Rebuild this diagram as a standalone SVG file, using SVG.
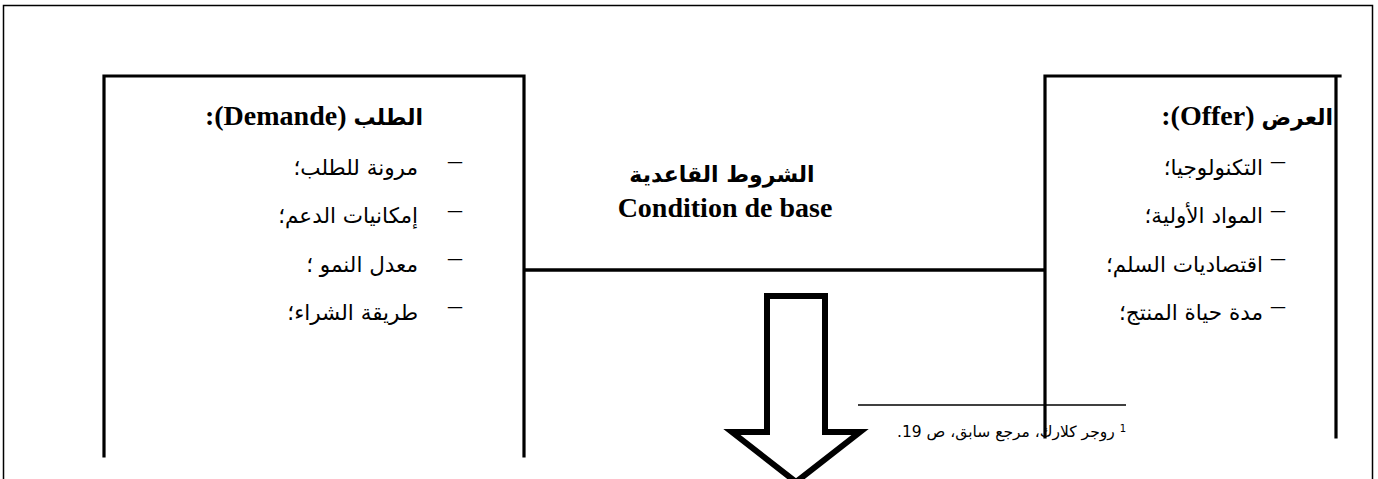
<svg xmlns="http://www.w3.org/2000/svg" width="1378" height="479" viewBox="0 0 1378 479">
  <style>
    .frame { fill: none; stroke: #000; stroke-width: 1.5; }
    .box { fill: none; stroke: #000; stroke-width: 3.2; stroke-linecap: square; }
    .link { fill: none; stroke: #000; stroke-width: 3.5; }
    .arrow { fill: #fff; stroke: #000; stroke-width: 6; stroke-linejoin: miter; }
    .rule { stroke: #000; stroke-width: 1.5; }
    .head { font-family: "Liberation Serif", "DejaVu Sans", serif; font-weight: bold; font-size: 28px; fill: #000; }
    .ar { font-family: "DejaVu Sans", sans-serif; font-size: 22px; }
    .item { font-family: "DejaVu Sans", "Liberation Serif", sans-serif; font-size: 21.5px; fill: #000; }
    .dash { font-family: "Liberation Serif", serif; font-size: 28px; fill: #000; }
    .note { font-family: "DejaVu Sans", "Liberation Sans", sans-serif; font-size: 15.5px; fill: #000; }
  </style>

  <!-- page frame -->
  <rect class="frame" x="3.5" y="5.5" width="1369" height="500"/>

  <!-- demand box -->
  <g id="demand">
    <path class="box" d="M104,456 V76 H524 V456"/>
    <text class="head" x="423" y="125" direction="rtl" text-anchor="start"><tspan class="ar">الطلب</tspan>  (Demande):</text>
    <text class="dash" x="448" y="169">–</text>
    <text class="item" x="418" y="175" direction="rtl" text-anchor="start">مرونة للطلب؛</text>
    <text class="dash" x="448" y="218">–</text>
    <text class="item" x="418" y="223" direction="rtl" text-anchor="start">إمكانيات الدعم؛</text>
    <text class="dash" x="448" y="266">–</text>
    <text class="item" x="418" y="272" direction="rtl" text-anchor="start">معدل النمو ؛</text>
    <text class="dash" x="448" y="314">–</text>
    <text class="item" x="418" y="320" direction="rtl" text-anchor="start">طريقة الشراء؛</text>
  </g>

  <!-- supply box -->
  <g id="offer">
    <path class="box" d="M1045,437 V76 H1340 M1336,76 V437"/>
    <text class="head" x="1333" y="125" direction="rtl" text-anchor="start"><tspan class="ar">العرض</tspan> (Offer):</text>
    <text class="dash" x="1271" y="169">–</text>
    <text class="item" x="1263" y="175" direction="rtl" text-anchor="start">التكنولوجيا؛</text>
    <text class="dash" x="1271" y="218">–</text>
    <text class="item" x="1263" y="223" direction="rtl" text-anchor="start">المواد الأولية؛</text>
    <text class="dash" x="1271" y="266">–</text>
    <text class="item" x="1263" y="272" direction="rtl" text-anchor="start">اقتصاديات السلم؛</text>
    <text class="dash" x="1271" y="314">–</text>
    <text class="item" x="1263" y="320" direction="rtl" text-anchor="start">مدة حياة المنتج؛</text>
  </g>

  <!-- basic conditions label -->
  <g id="conditions">
    <text class="head ar" x="722" y="182" text-anchor="middle" direction="rtl" font-weight="bold" font-size="20">الشروط القاعدية</text>
    <text class="head" x="725" y="217" text-anchor="middle" font-size="30">Condition de base</text>
  </g>

  <!-- connectors -->
  <g id="connectors">
    <line class="link" x1="524" y1="270" x2="1045" y2="270"/>
    <polygon class="arrow" points="767,296 825,296 825,432 860,432 796,482 732,432 767,432"/>
  </g>

  <!-- footnote -->
  <g id="footnote">
    <line class="rule" x1="858" y1="405" x2="1126" y2="405"/>
    <text class="note" x="1126" y="437" direction="rtl" text-anchor="start"><tspan font-size="10" baseline-shift="super">1</tspan> روجر كلارك، مرجع سابق، ص 19.</text>
  </g>
</svg>
